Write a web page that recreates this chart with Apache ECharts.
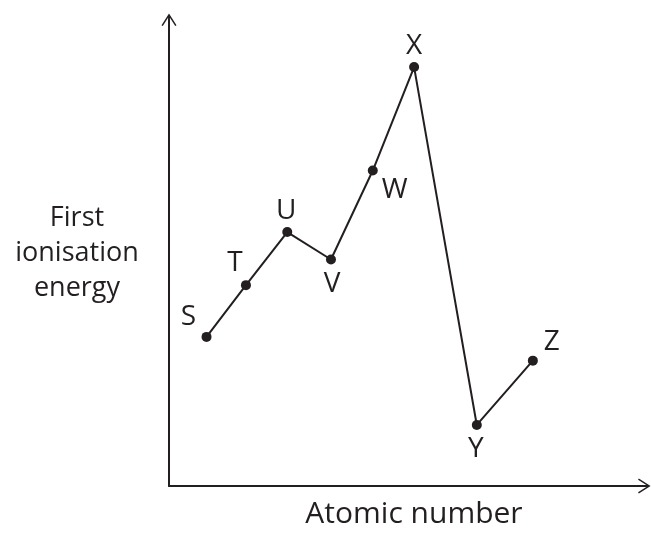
<!DOCTYPE html>
<html>
<head>
<meta charset="utf-8">
<script src="https://cdn.jsdelivr.net/npm/echarts@6/dist/echarts.min.js"></script>
<style>
  html, body { margin: 0; padding: 0; background: #fff; }
  #chart { width: 651px; height: 534px; }
</style>
</head>
<body>
<div id="chart"></div>
<script>
// Element labels along the curve
var elements = ['S', 'T', 'U', 'V', 'W', 'X', 'Y', 'Z'];
// Relative atomic-number position (sketch, no real scale)
var atomicPos = [7.9, 16.2, 24.9, 34.1, 42.9, 51.6, 64.8, 76.6];
// Relative first ionisation energy (sketch, no real scale)
var energy = [32.0, 43.1, 54.5, 48.6, 67.7, 89.9, 13.1, 26.9];

// where each letter sits relative to its dot
var labelOffsets = [[-18, -20], [-11, -22], [-1, -21], [1, 25], [22, 20], [0, -21], [-1, 24], [19, -19]];

var ink = '#231f20';
var font = '"Open Sans"';

// open chevron arrow with a shaft, pointing "up" in symbol space
var arrowPath = 'path://M8,0 L16,12.5 L14.65,13.36 L9,4.53 L9,14 L7,14 L7,4.53 L1.35,13.36 L0,12.5 Z';

document.addEventListener('DOMContentLoaded', function () {
  var chart = echarts.init(document.getElementById('chart'));

  var points = atomicPos.map(function (x, i) {
    return {
      value: [x, energy[i]],
      name: elements[i],
      label: { offset: labelOffsets[i] }
    };
  });

  var axisArrow = {
    show: true,
    onZero: false,
    symbol: ['none', arrowPath],
    symbolSize: [15, 14],
    lineStyle: { color: ink, width: 2 }
  };

  var option = {
    animation: false,
    backgroundColor: '#fff',
    grid: { left: 169, right: 7, top: 20, bottom: 41, containLabel: false },
    xAxis: {
      type: 'value',
      min: 0,
      max: 100,
      name: 'Atomic number',
      nameLocation: 'middle',
      nameGap: 28,
      nameTextStyle: {
        fontFamily: font, fontSize: 30, color: ink, verticalAlign: 'middle',
        padding: [0, 0, 0, 15]
      },
      axisLine: axisArrow,
      axisTick: { show: false },
      axisLabel: { show: false },
      splitLine: { show: false }
    },
    yAxis: {
      type: 'value',
      min: 0,
      max: 100,
      name: 'First\nionisation\nenergy',
      nameLocation: 'middle',
      nameGap: 92,
      nameRotate: 0,
      nameTextStyle: {
        fontFamily: font, fontSize: 27, color: ink,
        align: 'center', verticalAlign: 'middle', lineHeight: 35,
        padding: [0, 0, 15, 0]
      },
      axisLine: axisArrow,
      axisTick: { show: false },
      axisLabel: { show: false },
      splitLine: { show: false }
    },
    series: [
      {
        type: 'line',
        data: points,
        symbol: 'circle',
        symbolSize: 10,
        itemStyle: { color: ink },
        lineStyle: { color: ink, width: 2 },
        label: {
          show: true,
          position: 'inside',
          formatter: '{b}',
          fontFamily: font,
          fontSize: 28,
          color: ink
        }
      }
    ]
  };

  chart.setOption(option);
});
</script>
</body>
</html>
